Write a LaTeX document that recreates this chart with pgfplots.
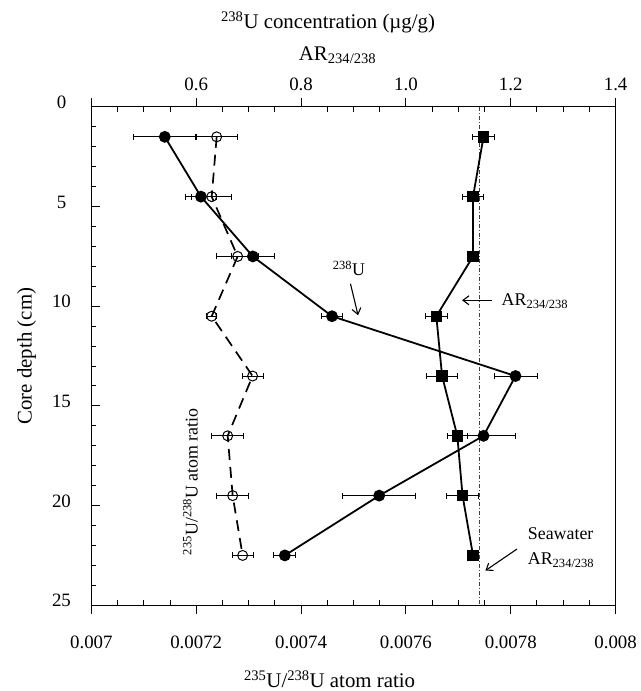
\documentclass[border=0pt]{standalone}
\usepackage{fontspec}
\setmainfont{Liberation Serif}
\usepackage{pgfplots}
\usepackage{pgfplotstable}
\pgfplotsset{compat=1.18}
\usetikzlibrary{arrows.meta}

% depth (cm), 238U conc. (ug/g), err, AR 234/238, err
\pgfplotstableread{
depth  u238   u238err ar     arerr
1.5    0.540  0.060   1.148  0.021
4.5    0.609  0.030   1.128  0.020
7.5    0.708  0.041   1.128  0.004
10.5   0.859  0.020   1.058  0.021
13.5   1.209  0.041   1.069  0.030
16.5   1.148  0.060   1.098  0.019
19.5   0.949  0.070   1.108  0.030
22.5   0.769  0.021   1.128  0.004
}\topdata

% depth (cm), 235U/238U atom ratio, err
\pgfplotstableread{
depth  ratio      err
1.5    0.0072390  0.0000396
4.5    0.0072295  0.0000386
7.5    0.0072790  0.0000400
10.5   0.0072295  0.0000092
13.5   0.0073075  0.0000200
16.5   0.0072600  0.0000304
19.5   0.0072695  0.0000304
22.5   0.0072885  0.0000203
}\ratiodata

\newcommand{\labfont}{\fontsize{21}{25}\selectfont}
\newcommand{\notefont}{\fontsize{18}{21}\selectfont}

\pgfplotsset{
  corebase/.style={
    scale only axis, width=526bp, height=500bp,
    ymin=0, ymax=25, y dir=reverse,
    axis line style={line width=1.1bp},
    every tick/.style={black, line width=1bp},
    tick label style={font=\fontsize{19}{22}\selectfont},
    /pgf/number format/assume math mode=true,
  },
  errx/.style={
    error bars/.cd, x dir=both, x explicit,
    error bar style={line width=0.9bp, solid},
    error mark options={rotate=90, mark size=3bp, line width=0.9bp, solid},
  },
}

\begin{document}
\begin{tikzpicture}
% bottom axis: 235U/238U atom ratio
\begin{axis}[corebase,
  xmin=0.007, xmax=0.008,
  xtick={0.007,0.0072,0.0074,0.0076,0.0078,0.008},
  xticklabels={0.007,0.0072,0.0074,0.0076,0.0078,0.008},
  scaled x ticks=false,
  xtick pos=bottom, xticklabel pos=bottom, xtick align=outside,
  major tick length=9bp, minor tick length=5bp,
  ytick={0,5,...,25}, minor y tick num=4,
  ytick pos=left, yticklabel pos=left, ytick align=inside,
  yticklabel style={anchor=center, xshift=-30bp, yshift=4.5bp},
  xticklabel style={yshift=-18bp},
  xlabel={\textsuperscript{235}U/\textsuperscript{238}U atom ratio},
  ylabel={Core depth (cm)},
  every axis x label/.style={at={([xshift=-24bp,yshift=-74bp]axis description cs:0.5,0)}, anchor=center, font=\labfont},
  every axis y label/.style={at={([xshift=-65bp]axis description cs:0,0.5)}, rotate=90, anchor=center, font=\labfont},
]
\addplot[black, line width=1.7bp, dash pattern=on 11bp off 7bp,
  mark=o, mark size=5bp, mark options={solid, fill=white, line width=1bp}, errx]
  table[x=ratio, y=depth, x error=err]{\ratiodata};
\end{axis}

% top axis: 238U concentration and AR 234/238
\begin{axis}[corebase,
  xmin=0.4, xmax=1.4,
  xtick={0.4,0.6,0.8,1.0,1.2,1.4},
  xticklabels={,0.6,0.8,1.0,1.2,1.4},
  xtick pos=top, xticklabel pos=top, xtick align=outside,
  major tick length=9bp,
  ytick=\empty,
  xticklabel style={yshift=4bp},
  title={\textsuperscript{238}U concentration (µg/g)},
  title style={at={([xshift=-25.5bp,yshift=79bp]axis description cs:0.5,1)}, anchor=center, font=\labfont},
  xlabel={AR\textsubscript{234/238}},
  every axis x label/.style={at={([xshift=-16bp,yshift=52bp]axis description cs:0.5,1)}, anchor=center, font=\labfont},
]
% seawater AR 234/238
\addplot[black!75, line width=0.8bp, dash pattern=on 4bp off 2bp on 1bp off 2bp]
  coordinates {(1.14,0) (1.14,25)};
\addplot[black, line width=1.8bp, mark=*, mark size=5bp, errx]
  table[x=u238, y=depth, x error=u238err]{\topdata};
\addplot[black, line width=1.8bp, mark=square*, mark size=4.8bp, errx]
  table[x=ar, y=depth, x error=arerr]{\topdata};

\node[font=\notefont] at (axis cs:0.8915,8.1) {\textsuperscript{238}U};
\draw[line width=1.1bp, -{Straight Barb[length=6bp,width=9bp]}] (axis cs:0.8942,8.87) -- (axis cs:0.9087,10.45);

\node[font=\notefont, anchor=west] at (axis cs:1.176,9.75) {AR\textsubscript{234/238}};
\draw[line width=1.1bp, -{Straight Barb[length=6bp,width=9bp]}] (axis cs:1.1642,9.70) -- (axis cs:1.1071,9.70);

\node[font=\notefont, anchor=west] at (axis cs:1.226,21.4) {Seawater};
\node[font=\notefont, anchor=west] at (axis cs:1.226,22.75) {AR\textsubscript{234/238}};
\draw[line width=1.1bp, -{Straight Barb[length=6bp,width=9bp]}] (axis cs:1.2118,22.18) -- (axis cs:1.1517,23.26);

\node[font=\notefont, rotate=90] at (axis cs:0.589,18.8) {\textsuperscript{235}U/\textsuperscript{238}U atom ratio};
\end{axis}

% minor x ticks, inside, top and bottom
\begin{axis}[corebase,
  xmin=0.4, xmax=1.4,
  xtick={0.45,0.5,0.55,0.65,0.7,0.75,0.85,0.9,0.95,1.05,1.1,1.15,1.25,1.3,1.35},
  xticklabel=\empty, xtick pos=both, xtick align=inside,
  major tick length=5bp, ytick=\empty,
]
\end{axis}

\path (current axis.south west) ++(-91.7bp,-83.7bp) rectangle ++(637bp,691bp);
\end{tikzpicture}
\end{document}
